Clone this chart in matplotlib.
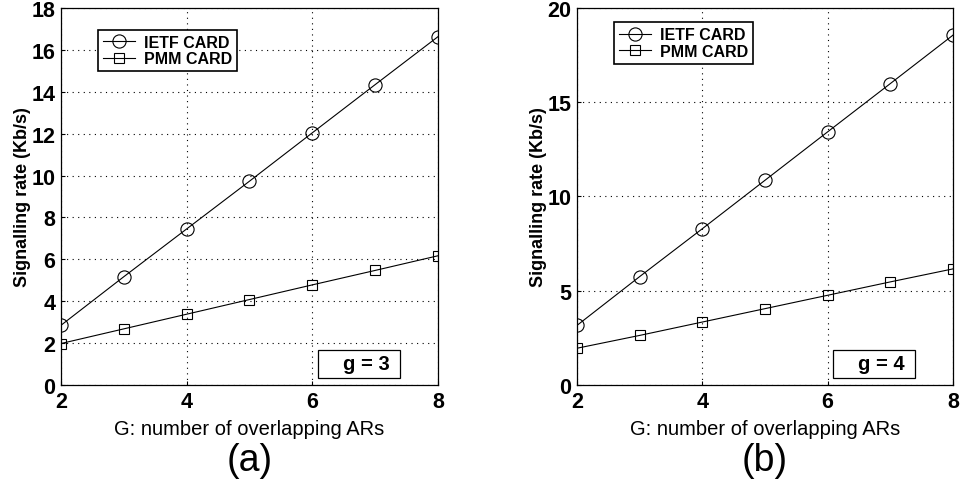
import matplotlib.pyplot as plt
from matplotlib.patches import Rectangle
import numpy as np

plt.rcParams["font.family"] = ["Liberation Sans", "DejaVu Sans"]

G = [2, 3, 4, 5, 6, 7, 8]

# g = 3
ietf_a = [2.85, 5.17, 7.45, 9.73, 12.04, 14.34, 16.63]
pmm_a = [1.98, 2.68, 3.38, 4.08, 4.78, 5.47, 6.17]

# g = 4
ietf_b = [3.16, 5.75, 8.29, 10.86, 13.43, 15.99, 18.56]
pmm_b = [1.95, 2.63, 3.34, 4.05, 4.76, 5.47, 6.16]

panels = [
    ("(a)", "g = 3", ietf_a, pmm_a, 18, 2, 0.942),
    ("(b)", "g = 4", ietf_b, pmm_b, 20, 5, 0.962),
]

fig = plt.figure(figsize=(9.6, 4.81), dpi=100)
axes = [
    fig.add_axes([0.0635, 0.1975, 0.3927, 0.7838]),
    fig.add_axes([0.601, 0.1975, 0.3917, 0.7838]),
]

for ax, (tag, gtxt, ietf, pmm, ymax, ystep, legtop) in zip(axes, panels):
    ax.plot(G, ietf, color="black", lw=0.8, marker="o", ms=9.5,
            mfc="none", mec="black", mew=0.8, label="IETF CARD")
    ax.plot(G, pmm, color="black", lw=0.8, marker="s", ms=7.7,
            mfc="none", mec="black", mew=0.8, label="PMM CARD")
    ax.set_xlim(2, 8)
    ax.set_ylim(0, ymax)
    ax.set_xticks([2, 4, 6, 8])
    ax.set_yticks(np.arange(0, ymax + 1, ystep))
    ax.grid(True, linestyle=(0, (1, 4)), color="black", lw=0.8)
    ax.tick_params(direction="in", length=3, labelsize=15.5, width=0.8, pad=4)
    for lab in ax.get_xticklabels() + ax.get_yticklabels():
        lab.set_fontweight("bold")
    for s in ax.spines.values():
        s.set_linewidth(0.9)
    ax.set_xlabel("G: number of overlapping ARs", fontsize=14.5, labelpad=5)
    ax.set_ylabel("Signalling rate (Kb/s)", fontsize=13, fontweight="bold",
                  labelpad=0)
    leg = ax.legend(loc="upper left", bbox_to_anchor=(0.098, legtop),
                    frameon=True, fancybox=False, framealpha=1,
                    handlelength=2.0, borderpad=0.3, labelspacing=0.1,
                    handletextpad=0.6, borderaxespad=0,
                    prop={"weight": "bold", "size": 11.5})
    leg.get_frame().set_edgecolor("black")
    leg.get_frame().set_linewidth(1.2)
    ax.add_patch(Rectangle((0.682, 0.018), 0.218, 0.076, transform=ax.transAxes,
                           fc="white", ec="black", lw=0.9, zorder=5))
    ax.text(0.809, 0.057, gtxt, transform=ax.transAxes, fontsize=14.5,
            fontweight="bold", ha="center", va="center", zorder=6)
    ax.text(0.5, -0.198, tag, transform=ax.transAxes, fontsize=27,
            ha="center", va="center")

fig.savefig("out.png", dpi=100)
